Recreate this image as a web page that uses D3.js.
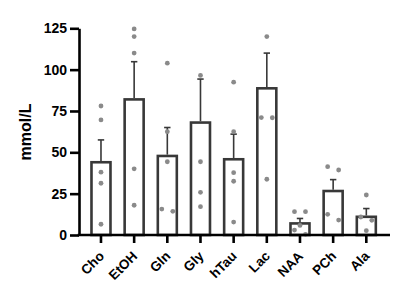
<!DOCTYPE html>
<html>
<head>
<meta charset="utf-8">
<script src="https://cdn.jsdelivr.net/npm/d3@7"></script>
<style>
  html, body { margin: 0; padding: 0; background: #fff; }
  svg { display: block; }
  text { font-family: "Liberation Sans", Arial, sans-serif; font-weight: bold; fill: #000; }
</style>
</head>
<body>
<svg id="chart" width="400" height="303"></svg>
<script>
// ---- data ----
const categories = ["Cho", "EtOH", "Gln", "Gly", "hTau", "Lac", "NAA", "PCh", "Ala"];
const means = [44, 82, 47.8, 68, 45.8, 88.7, 7, 26.6, 11];
const errorTops = [57.5, 104.8, 65, 94.3, 61, 110, 10, 33.5, 16];
const points = [
  [78, 69.6, 38, 31.3, 6.5],
  [124.6, 120, 110, 40, 18],
  [103.9, 62.5, 44.3, 15.7, 14.3],
  [96.5, 44.3, 25.8, 17.1],
  [92.4, 62.5, 37.7, 32.5, 7.8],
  [120, 71, 70.9, 33.7],
  [14.1, 14.1, 5.8, 3, 0.4],
  [41.3, 39.3, 12.5, 9],
  [24.2, 10.9, 8.9, 2.6]
];
const yTicks = [0, 25, 50, 75, 100, 125];
const yLabel = "mmol/L";

// ---- drawing ----
const svg = d3.select("#chart");
const y = d3.scaleLinear().domain([0, 125]).range([235, 28.3]);
const x = d3.scaleBand().domain(categories).range([84.4, 382.9]).padding(0);
const cx = c => x(c) + x.bandwidth() / 2;
const barW = 19;

// bars
svg.append("g").selectAll("rect").data(categories).join("rect")
  .attr("x", c => cx(c) - barW / 2)
  .attr("y", (c, i) => y(means[i]))
  .attr("width", barW)
  .attr("height", (c, i) => y(0) - y(means[i]))
  .attr("fill", "#fff")
  .attr("stroke", "#383838")
  .attr("stroke-width", 2.6);

// error bars (upward only)
const eb = svg.append("g").attr("stroke", "#383838").attr("stroke-width", 1.6);
categories.forEach((c, i) => {
  eb.append("line").attr("x1", cx(c)).attr("x2", cx(c))
    .attr("y1", y(means[i]) - 1.3).attr("y2", y(errorTops[i]));
  eb.append("line").attr("x1", cx(c) - 3.2).attr("x2", cx(c) + 3.2)
    .attr("y1", y(errorTops[i])).attr("y2", y(errorTops[i]));
});

// scatter points, near-overlapping ones spread sideways
const dotG = svg.append("g").attr("fill", "#8a8a8a");
const spread = 11;
categories.forEach((c, i) => {
  const vals = points[i].slice().sort((a, b) => b - a);
  const clusters = [];
  vals.forEach(v => {
    const last = clusters[clusters.length - 1];
    if (last && Math.abs(y(v) - y(last[last.length - 1])) < 7) last.push(v);
    else clusters.push([v]);
  });
  clusters.forEach(cl => {
    let offs;
    if (cl.length === 1) offs = [0];
    else if (cl.length % 2 === 0) offs = cl.map((d, k) => (k % 2 === 0 ? -1 : 1) * spread / 2);
    else offs = cl.map((d, k) => k === 0 ? 0 : (k % 2 === 1 ? -1 : 1) * spread / 2);
    cl.forEach((v, k) => {
      dotG.append("circle").attr("cx", cx(c) + offs[k]).attr("cy", y(v)).attr("r", 2.4);
    });
  });
});

// y axis
const yAxis = svg.append("g").attr("transform", "translate(79,0)")
  .call(d3.axisLeft(y).tickValues(yTicks).tickSize(9).tickSizeOuter(0).tickPadding(3));
yAxis.select(".domain").attr("stroke", "#000").attr("stroke-width", 2.6);
yAxis.selectAll(".tick line").attr("stroke", "#000").attr("stroke-width", 2.6);
yAxis.selectAll(".tick text").style("font-size", "14px").style("font-family", "'Liberation Sans', Arial, sans-serif").style("font-weight", "bold").attr("fill", "#000");

// x axis
const xAxis = svg.append("g").attr("transform", "translate(0,235)")
  .call(d3.axisBottom(x).tickSize(8).tickSizeOuter(0));
xAxis.select(".domain").remove();
xAxis.selectAll(".tick text").remove();
xAxis.append("line").attr("x1", 77.7).attr("x2", 390).attr("y1", 0).attr("y2", 0)
  .attr("stroke", "#000").attr("stroke-width", 2.6);
xAxis.selectAll(".tick line").attr("stroke", "#000").attr("stroke-width", 2.6);

// rotated category labels
svg.append("g").selectAll("text").data(categories).join("text")
  .attr("x", c => cx(c) + 4).attr("y", 257)
  .attr("text-anchor", "end")
  .style("font-size", "13.5px")
  .attr("transform", c => `rotate(-45 ${cx(c) + 4} 257)`)
  .text(d => d);

// y label
svg.append("g")
  .attr("transform", "translate(31,132) rotate(-90)")
  .append("text")
  .attr("text-anchor", "middle")
  .style("font-size", "16px")
  .text(yLabel);
</script>
</body>
</html>
